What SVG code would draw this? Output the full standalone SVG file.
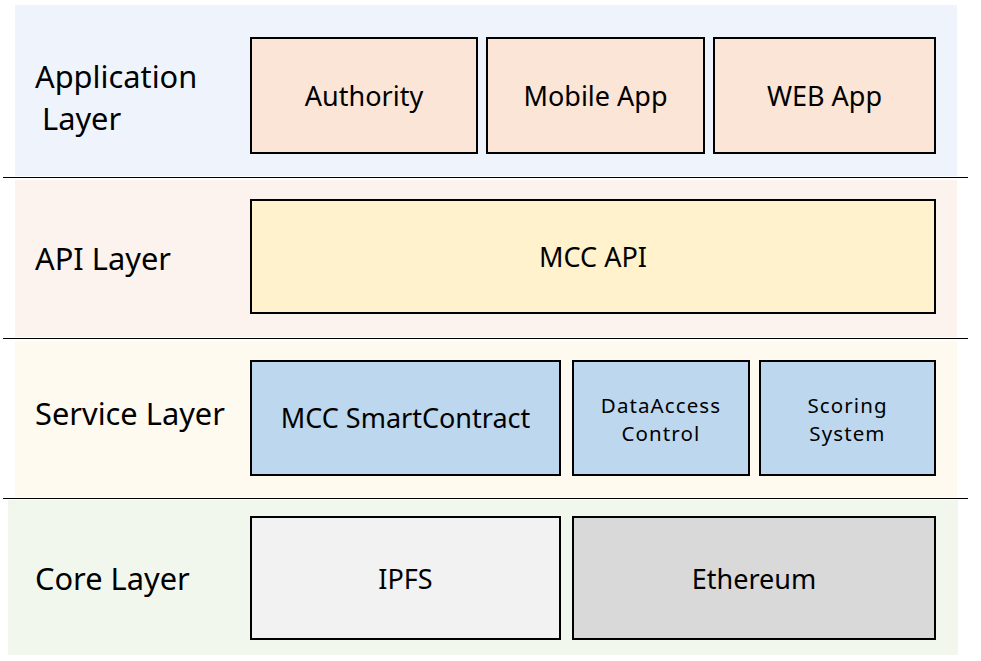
<svg xmlns="http://www.w3.org/2000/svg" width="981" height="661" viewBox="0 0 981 661">
<style>
.band{stroke:none}
.sep{stroke:#000;stroke-width:1.2}
.box{stroke:#000;stroke-width:2}
.lbl{font-family:"Noto Sans","Open Sans",sans-serif;font-size:30.8px;fill:#000}
.t{font-family:"Noto Sans","Open Sans",sans-serif;font-size:27px;fill:#000;text-anchor:middle}
.ts{font-family:"Noto Sans","Open Sans",sans-serif;font-size:20.5px;letter-spacing:1.1px;fill:#000;text-anchor:middle}
</style>
<rect width="981" height="661" fill="#fff"/>
<g id="bands">
<rect class="band" x="15" y="5" width="942" height="171" fill="#EFF4FC"/>
<rect class="band" x="15" y="180" width="942" height="157" fill="#FCF3EE"/>
<rect class="band" x="15" y="341" width="942" height="156" fill="#FFFAF0"/>
<rect class="band" x="8" y="500" width="950" height="155" fill="#F2F7EE"/>
<line class="sep" x1="3" y1="177.5" x2="968" y2="177.5"/>
<line class="sep" x1="3" y1="338.5" x2="968" y2="338.5"/>
<line class="sep" x1="3" y1="498.5" x2="968" y2="498.5"/>
</g>
<g id="layer-labels">
<text class="lbl" x="35" y="88">Application</text>
<text class="lbl" x="42" y="130">Layer</text>
<text class="lbl" x="35" y="270">API Layer</text>
<text class="lbl" x="35" y="425">Service Layer</text>
<text class="lbl" x="35" y="590">Core Layer</text>
</g>
<g id="authority"><rect class="box" x="251" y="38" width="226" height="115" fill="#FBE5D6"/><text class="t" x="364" y="106">Authority</text></g>
<g id="mobile-app"><rect class="box" x="487" y="38" width="217" height="115" fill="#FBE5D6"/><text class="t" x="595.5" y="106">Mobile App</text></g>
<g id="web-app"><rect class="box" x="714" y="38" width="221" height="115" fill="#FBE5D6"/><text class="t" x="824.5" y="106">WEB App</text></g>
<g id="mcc-api"><rect class="box" x="251" y="200" width="684" height="113" fill="#FFF2CC"/><text class="t" x="593" y="267">MCC API</text></g>
<g id="mcc-smartcontract"><rect class="box" x="251" y="361" width="309" height="114" fill="#BDD7EE"/><text class="t" x="405.5" y="428">MCC SmartContract</text></g>
<g id="dataaccess-control"><rect class="box" x="573" y="361" width="176" height="114" fill="#BDD7EE"/><text class="ts" x="661" y="413">DataAccess</text><text class="ts" x="661" y="441">Control</text></g>
<g id="scoring-system"><rect class="box" x="760" y="361" width="175" height="114" fill="#BDD7EE"/><text class="ts" x="847.5" y="413">Scoring</text><text class="ts" x="847.5" y="441">System</text></g>
<g id="ipfs"><rect class="box" x="251" y="517" width="309" height="122" fill="#F2F2F2"/><text class="t" x="405.5" y="589">IPFS</text></g>
<g id="ethereum"><rect class="box" x="573" y="517" width="362" height="122" fill="#D9D9D9"/><text class="t" x="754" y="589">Ethereum</text></g>
<g id="connectors"></g>
</svg>
